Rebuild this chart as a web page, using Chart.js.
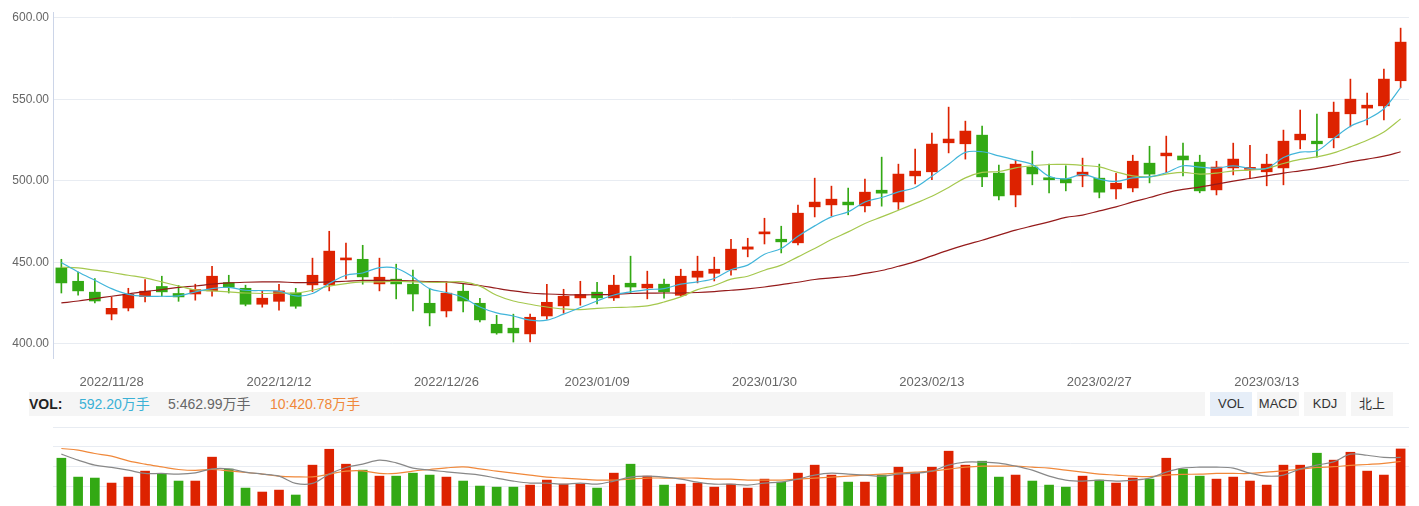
<!DOCTYPE html>
<html>
<head>
<meta charset="utf-8">
<script src="https://cdn.jsdelivr.net/npm/chart.js@4.4.0/dist/chart.umd.min.js"></script>
<style>
  body { margin: 0; background: #fff; width: 1419px; height: 506px; overflow: hidden; position: relative;
         font-family: "Liberation Sans", Arial, "Noto Sans CJK SC", sans-serif; }
  canvas { position: absolute; left: 0; }
  #kline { top: 0; }
  #volume { top: 420px; }
  .band { position: absolute; left: 29px; top: 392px; width: 1176px; height: 24px; background: #f5f5f5; }
  .txt { position: absolute; top: 395px; font-size: 14px; line-height: 18px; white-space: nowrap; }
  .btn { position: absolute; top: 392px; width: 42px; height: 24px; line-height: 24px; text-align: center;
         font-size: 13px; color: #333; background: #f5f5f5; }
</style>
</head>
<body>
<canvas id="kline" width="1419" height="392"></canvas>
<div class="band"></div>
<div class="txt" style="left:29px;font-weight:bold;color:#222">VOL:</div>
<div class="txt" style="left:79px;color:#3bb1d6">592.20万手</div>
<div class="txt" style="left:168px;color:#666">5:462.99万手</div>
<div class="txt" style="left:270px;color:#f0883a">10:420.78万手</div>
<div class="btn" style="left:1210px;background:#e6eef8">VOL</div>
<div class="btn" style="left:1257px">MACD</div>
<div class="btn" style="left:1304px">KDJ</div>
<div class="btn" style="left:1351px">北上</div>
<canvas id="volume" width="1419" height="86"></canvas>
<script>
// trading days
let dates = [
  '2022/11/23','2022/11/24','2022/11/25','2022/11/28','2022/11/29','2022/11/30','2022/12/01','2022/12/02',
  '2022/12/05','2022/12/06','2022/12/07','2022/12/08','2022/12/09','2022/12/12','2022/12/13','2022/12/14',
  '2022/12/15','2022/12/16','2022/12/19','2022/12/20','2022/12/21','2022/12/22','2022/12/23','2022/12/26',
  '2022/12/27','2022/12/28','2022/12/29','2022/12/30','2023/01/03','2023/01/04','2023/01/05','2023/01/06',
  '2023/01/09','2023/01/10','2023/01/11','2023/01/12','2023/01/13','2023/01/16','2023/01/17','2023/01/18',
  '2023/01/19','2023/01/20','2023/01/30','2023/01/31','2023/02/01','2023/02/02','2023/02/03','2023/02/06',
  '2023/02/07','2023/02/08','2023/02/09','2023/02/10','2023/02/13','2023/02/14','2023/02/15','2023/02/16',
  '2023/02/17','2023/02/20','2023/02/21','2023/02/22','2023/02/23','2023/02/24','2023/02/27','2023/02/28',
  '2023/03/01','2023/03/02','2023/03/03','2023/03/06','2023/03/07','2023/03/08','2023/03/09','2023/03/10',
  '2023/03/13','2023/03/14','2023/03/15','2023/03/16','2023/03/17','2023/03/20','2023/03/21','2023/03/22',
  '2023/03/23'
];
let shown_ticks = [3, 13, 23, 32, 42, 52, 62, 72];

let open = [446.5,438.3,431.6,418.2,421.9,428.9,435.1,430.8,430.5,432.4,437.5,434.0,424.2,426.0,431.1,436.1,
  436.1,451.4,451.8,436.7,439.6,436.5,424.8,420.1,432.2,424.8,411.9,409.5,406.0,417.0,423.2,428.1,
  431.6,428.1,437.1,434.2,436.5,429.7,440.8,443.2,445.3,458.0,467.4,464.1,461.9,484.0,485.2,486.9,
  484.6,494.2,487.0,503.0,505.5,523.3,522.7,528.0,504.7,491.3,508.4,501.2,501.2,503.0,501.6,495.0,
  495.6,510.8,515.3,515.2,511.4,494.4,507.9,507.0,505.5,507.9,525.1,524.3,526.4,541.1,544.6,546.0,561.4];
let high = [451.8,444.0,440.0,428.5,434.0,439.4,441.4,435.7,436.5,447.5,442.0,435.9,432.4,436.5,434.0,452.5,
  469.0,461.7,460.4,452.5,448.8,445.1,433.6,437.9,436.9,427.9,417.4,418.1,418.1,436.5,433.4,438.3,
  437.7,442.0,453.7,444.5,439.6,445.7,453.7,453.1,464.1,464.7,477.0,472.1,485.0,501.6,496.7,495.5,
  501.0,514.5,510.2,519.4,529.2,545.2,536.6,533.6,509.6,512.6,518.2,510.2,509.2,513.9,510.2,504.5,
  515.7,521.2,527.4,523.1,515.7,512.0,523.1,521.8,516.3,531.1,543.4,541.0,548.3,562.4,553.8,568.5,593.7];
let low = [431.1,429.7,425.0,414.6,420.1,425.6,429.1,426.0,426.7,429.1,431.1,423.2,422.4,420.5,421.7,432.0,
  432.4,439.7,436.5,432.4,427.5,420.1,410.9,416.4,419.5,413.3,405.8,401.0,401.0,415.0,418.7,423.6,
  424.4,426.5,431.1,427.5,427.9,429.1,437.3,438.5,442.0,453.3,461.2,455.7,460.6,477.8,478.4,479.1,
  480.9,484.4,482.4,498.1,500.6,517.1,513.3,496.3,488.3,484.0,497.5,492.6,493.8,496.3,489.5,488.9,
  493.2,498.7,504.9,503.0,492.6,491.3,503.6,501.8,496.9,497.5,519.6,514.5,520.2,533.1,534.3,537.4,557.1];
let close = [437.3,432.4,426.2,421.7,430.3,432.2,431.8,428.7,433.2,441.4,434.6,424.2,427.9,432.4,423.0,442.0,
  456.8,452.5,441.0,440.8,436.7,430.5,418.9,431.0,426.2,414.6,406.6,406.6,416.2,425.4,429.1,430.2,
  428.1,435.9,434.8,436.5,431.8,441.4,444.5,445.7,458.0,459.4,468.6,462.5,480.1,486.9,488.7,485.2,
  493.0,492.4,504.1,505.9,522.5,525.6,530.5,502.4,490.7,510.2,504.2,500.6,498.7,505.3,493.0,498.5,
  512.0,504.1,517.0,512.8,493.8,508.4,513.3,507.6,510.2,524.3,528.6,522.7,542.1,550.1,546.4,562.4,585.1];

let ma5 = [449.8,444.0,438.9,433.8,430.3,429.1,429.1,429.3,431.8,433.8,434.6,432.8,432.6,432.2,429.3,430.8,
  436.9,442.0,443.4,446.7,446.3,441.0,433.8,431.4,428.3,422.5,418.9,417.0,414.4,414.4,418.1,422.2,
  426.2,429.9,431.8,433.2,433.8,436.5,437.9,440.0,445.4,448.2,454.9,458.4,465.9,472.3,477.8,480.9,
  487.0,489.7,493.2,495.9,502.8,510.2,517.4,517.8,515.3,512.7,510.0,502.8,501.2,503.9,501.0,499.6,
  501.8,502.4,504.9,509.2,508.4,507.7,509.2,507.6,507.6,514.3,517.6,518.4,526.0,533.5,537.8,544.2,557.1];
let ma10 = [446.9,446.5,445.1,443.7,442.0,440.4,437.9,435.4,433.0,432.4,431.8,431.1,430.8,431.1,431.1,432.8,
  435.3,436.9,437.9,437.9,438.3,437.9,437.7,437.7,437.9,435.3,429.7,426.2,424.2,422.5,421.3,420.9,
  421.7,422.2,422.5,423.2,425.6,428.7,433.2,435.7,439.6,441.4,445.1,448.2,453.3,458.4,463.9,468.6,
  473.8,477.8,481.9,486.1,490.5,495.9,501.8,505.1,505.7,507.9,509.2,510.0,510.0,509.4,508.5,505.5,
  503.0,502.4,504.1,505.1,504.1,504.7,506.1,506.5,507.6,510.6,513.1,514.7,517.1,520.8,524.9,530.0,538.0];
let ma_long = [425.0,426.2,427.7,429.1,430.5,432.0,433.2,434.6,435.4,436.5,437.3,437.7,437.9,437.9,437.5,437.5,
  437.9,438.3,438.8,438.8,438.8,438.5,438.1,437.9,436.9,435.7,434.0,432.4,431.1,430.5,430.1,429.9,
  430.1,430.3,430.8,431.0,431.1,431.1,431.4,432.0,432.8,433.6,434.8,436.3,437.7,439.4,440.4,441.4,
  443.1,444.9,447.5,450.4,453.9,457.4,460.6,463.5,466.6,469.7,472.3,474.8,477.5,478.9,481.5,484.0,
  487.0,489.7,492.6,494.7,496.1,497.9,499.8,501.4,503.0,504.7,506.1,507.6,509.4,511.6,513.3,515.1,517.8];

// volume, 万手
let vol = [496,300,290,238,300,362,334,259,259,507,383,186,145,165,114,424,
  589,434,372,310,310,341,321,300,259,207,196,196,217,269,227,227,
  186,341,434,310,217,227,238,196,227,186,279,248,341,424,321,248,
  248,321,403,341,403,569,424,465,300,321,259,217,196,310,269,238,
  290,279,496,383,310,279,300,259,217,424,424,548,476,558,362,321,592.2];
let vol_ma5 = [538,476,424,400,372,338,338,331,344,386,386,352,331,310,235,235,
  331,400,434,476,448,393,372,355,338,321,290,259,238,238,227,238,
  227,259,300,310,300,279,248,227,227,217,238,248,279,321,341,331,
  321,310,331,341,362,424,455,455,445,414,372,310,269,259,269,259,
  269,290,352,393,403,403,393,341,310,321,383,424,458,538,527,504,504];
let vol_ma10 = [597,579,545,517,468,434,406,379,369,379,365,348,331,310,303,303,
  331,362,365,338,338,362,379,396,406,386,362,341,321,300,290,279,
  269,269,279,290,290,290,290,279,279,269,269,269,279,290,300,310,
  321,331,341,352,362,383,403,414,414,414,403,393,372,352,331,321,
  310,305,321,328,331,338,338,338,352,365,383,400,408,421,431,442,462];

const UP = '#dd2200';
const DOWN = '#33a914';
let colors = open.map((o, i) => close[i] >= o ? UP : DOWN);

function lineSet(data, color, width) {
    return { type: 'line', data: data, borderColor: color, borderWidth: width, pointRadius: 0,
             tension: 0.35, fill: false, order: 0 };
}

const kline = new Chart(document.getElementById('kline'), {
    type: 'bar',
    data: {
        labels: dates,
        datasets: [
            lineSet(ma5, '#41b5da', 1.2),
            lineSet(ma10, '#a5c84e', 1.2),
            lineSet(ma_long, '#951b1b', 1.2),
            { data: open.map((o, i) => [open[i], close[i]]), backgroundColor: colors,
              barThickness: 11, grouped: false, minBarLength: 2, order: 1 },
            { data: open.map((o, i) => [low[i], high[i]]), backgroundColor: colors,
              barThickness: 1, grouped: false, order: 2 }
        ]
    },
    options: {
        responsive: false,
        animation: false,
        layout: { padding: { top: 12, right: 10, bottom: 0, left: 0 } },
        plugins: { legend: { display: false }, tooltip: { enabled: false } },
        scales: {
            x: {
                grid: { display: false },
                border: { display: false },
                ticks: {
                    autoSkip: false, maxRotation: 0, padding: 9, color: '#666',
                    font: { size: 13, family: '"Liberation Sans", Arial, sans-serif' },
                    callback: (v, i) => shown_ticks.includes(i) ? dates[i] : ''
                },
                afterFit: s => { s.height = 34; }
            },
            y: {
                min: 391.2, max: 603.6,
                grid: { color: '#e8ecf2', drawTicks: false },
                border: { display: true, color: '#ccd5e8' },
                ticks: {
                    stepSize: 50, includeBounds: false, padding: 4, color: '#666',
                    font: { size: 12, family: '"Liberation Sans", Arial, sans-serif' },
                    callback: v => v.toFixed(2)
                },
                afterFit: s => { s.width = 53; }
            }
        }
    }
});

const volume = new Chart(document.getElementById('volume'), {
    type: 'bar',
    data: {
        labels: dates,
        datasets: [
            lineSet(vol_ma5, '#888888', 1.2),
            lineSet(vol_ma10, '#f0883a', 1.2),
            { data: vol, backgroundColor: colors, barThickness: 9, order: 1 }
        ]
    },
    options: {
        responsive: false,
        animation: false,
        layout: { padding: { top: 7, right: 10, bottom: 0, left: 0 } },
        plugins: { legend: { display: false }, tooltip: { enabled: false } },
        scales: {
            x: { display: false },
            y: {
                min: 0, max: 820,
                grid: { color: '#e8ecf2', drawTicks: false },
                border: { display: false },
                ticks: { display: false, stepSize: 205 },
                afterFit: s => { s.width = 53; }
            }
        }
    }
});
</script>
</body>
</html>
